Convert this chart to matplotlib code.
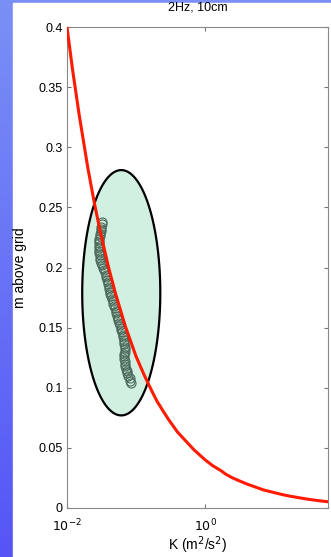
import numpy as np
import matplotlib
matplotlib.use('Agg')
import matplotlib.pyplot as plt

plt.rcParams['font.family'] = ['Liberation Sans', 'DejaVu Sans']

# model curve
K_curve = [0.01, 0.012, 0.015, 0.02, 0.025, 0.03, 0.04, 0.05, 0.07, 0.1, 0.13, 0.17,
           0.2, 0.25, 0.3, 0.4, 0.5, 0.7, 1, 1.3, 1.7, 2, 2.5, 3, 4, 5, 7, 10,
           13, 17, 22, 30, 40, 50, 60]
h_curve = [0.400, 0.365, 0.327, 0.283, 0.253, 0.231, 0.200, 0.179, 0.151, 0.126,
           0.111, 0.097, 0.089, 0.080, 0.073, 0.063, 0.057, 0.048, 0.040, 0.035,
           0.031, 0.028, 0.025, 0.023, 0.020, 0.018, 0.015, 0.0128, 0.0112, 0.0098,
           0.0087, 0.0074, 0.0064, 0.0057, 0.0052]

# measured points
h_meas = [0.238, 0.236, 0.234, 0.232, 0.230, 0.228, 0.226, 0.224, 0.222, 0.220,
          0.218, 0.216, 0.214, 0.212, 0.210, 0.208, 0.206, 0.204, 0.202, 0.200,
          0.198, 0.196, 0.194, 0.192, 0.190, 0.188, 0.186, 0.184, 0.182, 0.180,
          0.178, 0.176, 0.174, 0.172, 0.170, 0.168, 0.166, 0.164, 0.162, 0.160,
          0.158, 0.156, 0.154, 0.152, 0.150, 0.148, 0.146, 0.144, 0.142, 0.140,
          0.138, 0.136, 0.134, 0.132, 0.130, 0.128, 0.126, 0.124, 0.122, 0.120,
          0.118, 0.116, 0.114, 0.112, 0.110, 0.108, 0.106, 0.104]
K_meas = [0.0322, 0.0318, 0.0315, 0.0312, 0.0309, 0.0304, 0.0298, 0.0293, 0.0291, 0.0290,
          0.0292, 0.0291, 0.0293, 0.0295, 0.0298, 0.0300, 0.0305, 0.0312, 0.0320, 0.0330,
          0.0342, 0.0355, 0.0362, 0.0371, 0.0380, 0.0389, 0.0396, 0.0402, 0.0409, 0.0416,
          0.0425, 0.0436, 0.0447, 0.0458, 0.0470, 0.0481, 0.0492, 0.0504, 0.0516, 0.0528,
          0.0540, 0.0553, 0.0567, 0.0582, 0.0597, 0.0612, 0.0627, 0.0638, 0.0649, 0.0660,
          0.0670, 0.0679, 0.0687, 0.0692, 0.0688, 0.0679, 0.0671, 0.0676, 0.0684, 0.0691,
          0.0698, 0.0712, 0.0728, 0.0745, 0.0770, 0.0805, 0.0830, 0.0847]

# ellipse: centre (K, h), half width in decades, half height in m
ell_K = 0.061
ell_h = 0.179
ell_w = 0.565
ell_ht = 0.102

fig = plt.figure(figsize=(3.31, 5.57), dpi=100)

# slide background: blue gradient on the left / top edge
bg = fig.add_axes([0, 0, 1, 1], zorder=-10)
grad = np.linspace(0, 1, 256).reshape(-1, 1)
top = np.array([122, 144, 246]) / 255
bot = np.array([85, 85, 245]) / 255
img = top + grad[..., None] * (bot - top)
bg.imshow(img, aspect='auto', extent=[0, 1, 0, 1])
bg.add_patch(plt.Rectangle((13 / 331, 0), 1, 1 - 3 / 557, color='white'))
bg.set_xlim(0, 1)
bg.set_ylim(0, 1)
bg.axis('off')

ax = fig.add_axes([67 / 331, 49 / 557, 261 / 331, 481 / 557])

t = np.linspace(0, 2 * np.pi, 300)
ex = 10 ** (np.log10(ell_K) + ell_w * np.cos(t))
ey = ell_h + ell_ht * np.sin(t)
ax.fill(ex, ey, facecolor='#d2f0e1', edgecolor='black', lw=1.6, zorder=1)

ax.plot(K_meas, h_meas, 'o', ms=6.5, mfc='none', mec='#4a6858', mew=0.8, zorder=2)
ax.plot(K_curve, h_curve, color='#ff1a00', lw=2.2, zorder=3)

ax.set_xscale('log')
ax.set_xlim(0.01, 60)
ax.set_ylim(0, 0.4)
ax.set_xticks([0.01, 1])
ax.set_xticklabels(['$10^{-2}$', '$10^{0}$'])
ax.minorticks_off()
ax.set_yticks([0, 0.05, 0.1, 0.15, 0.2, 0.25, 0.3, 0.35, 0.4])
ax.set_yticklabels(['0', '0.05', '0.1', '0.15', '0.2', '0.25', '0.3', '0.35', '0.4'])
ax.tick_params(direction='in', top=True, right=True, labelsize=9, length=3,
               color='#777777', pad=3)
ax.tick_params(axis='x', pad=7)
for s in ax.spines.values():
    s.set_color('#888888')
    s.set_linewidth(0.8)

ax.set_title('2Hz, 10cm', fontsize=9, pad=12)
ax.set_xlabel('K (m$^2$/s$^2$)', fontsize=10, labelpad=0)
ax.set_ylabel('m above grid', fontsize=10, labelpad=8)

fig.savefig('out.png', dpi=100)
